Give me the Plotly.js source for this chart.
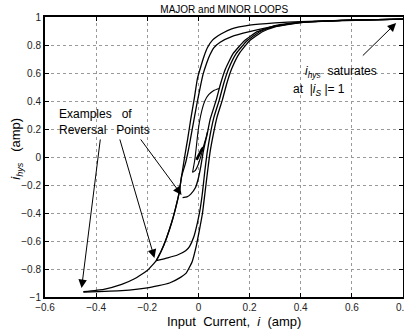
<!DOCTYPE html>
<html>
<head>
<meta charset="utf-8">
<script src="https://cdn.plot.ly/plotly-3.0.1.min.js"></script>
<style>html,body{margin:0;padding:0;background:#fff;}#chart{width:404px;height:336px;}</style>
</head>
<body>
<div id="chart"></div>
<script>
// Major loop, descending branch (from positive saturation to -0.45)
const majorDescX = [0.8,0.6,0.4,0.3,0.2,0.13,0.09,0.055,0.035,0.022,0.01,-0.004,-0.016,-0.03,-0.042,-0.054,-0.066,-0.076,-0.09,-0.105,-0.125,-0.145,-0.165,-0.2,-0.25,-0.3,-0.37,-0.45];
const majorDescY = [0.985,0.977,0.967,0.958,0.942,0.915,0.88,0.835,0.78,0.72,0.65,0.56,0.42,0.27,0.13,0.0,-0.14,-0.26,-0.37,-0.47,-0.58,-0.67,-0.74,-0.81,-0.87,-0.91,-0.945,-0.962];
// Major loop, ascending branch (from -0.45 to positive saturation)
const majorAscX = [-0.45,-0.3,-0.2,-0.113,-0.07,-0.048,-0.025,-0.009,0.004,0.016,0.026,0.036,0.045,0.058,0.072,0.094,0.11,0.13,0.16,0.2,0.25,0.3,0.4,0.6,0.8];
const majorAscY = [-0.965,-0.955,-0.935,-0.9,-0.86,-0.83,-0.75,-0.64,-0.52,-0.4,-0.25,-0.1,0.03,0.16,0.28,0.41,0.52,0.63,0.74,0.83,0.895,0.93,0.96,0.977,0.985];
// Second descending branch (reversal at -0.165)
const desc2X = [0.8,0.5,0.4,0.3,0.2,0.13,0.085,0.06,0.045,0.032,0.018,0.005,-0.008,-0.022,-0.036,-0.05,-0.066,-0.076,-0.09,-0.105,-0.125,-0.145,-0.165];
const desc2Y = [0.985,0.97,0.96,0.935,0.895,0.86,0.82,0.78,0.73,0.67,0.59,0.48,0.36,0.22,0.08,-0.04,-0.14,-0.26,-0.37,-0.47,-0.58,-0.67,-0.74];
// Ascending branch from reversal point -0.165
const asc2X = [-0.165,-0.12,-0.082,-0.05,-0.035,-0.018,-0.004,0.006,0.016,0.025,0.034,0.046,0.06,0.082,0.098,0.118,0.148,0.19,0.24,0.3,0.4,0.6,0.8];
const asc2Y = [-0.74,-0.72,-0.7,-0.67,-0.64,-0.57,-0.47,-0.38,-0.25,-0.1,0.03,0.16,0.28,0.41,0.52,0.63,0.74,0.83,0.895,0.935,0.962,0.977,0.985];
// Ascending branch from reversal point -0.06
const asc3X = [-0.062,-0.045,-0.03,-0.012,0.0,0.01,0.018,0.026,0.034,0.046,0.07,0.086,0.106,0.136,0.18,0.23,0.3,0.4,0.6,0.8];
const asc3Y = [-0.29,-0.285,-0.265,-0.22,-0.15,-0.06,0.03,0.1,0.16,0.27,0.41,0.52,0.63,0.74,0.83,0.895,0.938,0.963,0.978,0.985];
// Minor loop: descending from reversal at 0.08
const minorDescX = [0.08,0.06,0.04,0.025,0.013,0.004,-0.003,-0.009,-0.015,-0.023];
const minorDescY = [0.49,0.475,0.445,0.4,0.33,0.25,0.16,0.06,-0.03,-0.11];
// Minor loop: ascending back
const minorAscX = [-0.023,-0.012,0.0,0.012,0.022,0.03,0.035];
const minorAscY = [-0.11,-0.095,-0.05,0.02,0.09,0.14,0.18];
// Tiny inner loop
const tinyX = [-0.008,0.0,0.008,0.016,0.011,0.003,-0.006];
const tinyY = [-0.02,0.01,0.04,0.066,0.045,0.015,-0.02];

const xTicks = [-0.6,-0.4,-0.2,0,0.2,0.4,0.6,0.8];
const yTicks = [-1,-0.8,-0.6,-0.4,-0.2,0,0.2,0.4,0.6,0.8,1];

// Arrow tips and tails
const arrowTipX = [-0.457,-0.172,-0.066,0.773];
const arrowTipY = [-0.936,-0.721,-0.271,0.957];
const arrowTailX = [-0.383,-0.309,-0.23,0.637];
const arrowTailY = [0.136,0.136,0.136,0.714];

const curves = [
  [majorDescX, majorDescY, 1.3],
  [majorAscX, majorAscY, 1.3],
  [desc2X, desc2Y, 1.3],
  [asc2X, asc2Y, 1.3],
  [asc3X, asc3Y, 1.3],
  [minorDescX, minorDescY, 1.1],
  [minorAscX, minorAscY, 1.1],
  [tinyX, tinyY, 2.2]
];
const traces = curves.map(c => ({
  x: c[0], y: c[1], type: 'scatter', mode: 'lines',
  line: {color: '#000', width: c[2], shape: 'spline', smoothing: 0.4},
  hoverinfo: 'skip', showlegend: false
}));

const txtFont = {family: 'Liberation Sans, Arial, sans-serif', size: 12, color: '#000'};
const titleFont = {family: 'Liberation Sans, Arial, sans-serif', size: 13, color: '#000'};
const annotations = [];
for (let i = 0; i < arrowTipX.length; i++) {
  annotations.push({
    x: arrowTipX[i], y: arrowTipY[i], ax: arrowTailX[i], ay: arrowTailY[i],
    xref: 'x', yref: 'y', axref: 'x', ayref: 'y', text: '',
    showarrow: true, arrowhead: 2, arrowsize: 1.7, arrowwidth: 1, arrowcolor: '#000'
  });
}
annotations.push(
  {x: -0.555, y: 0.31, xref: 'x', yref: 'y', xanchor: 'left', yanchor: 'middle', showarrow: false,
   text: 'Examples&nbsp;&nbsp;&nbsp;of', font: txtFont},
  {x: -0.555, y: 0.195, xref: 'x', yref: 'y', xanchor: 'left', yanchor: 'middle', showarrow: false,
   text: 'Reversal&nbsp;&nbsp;&nbsp;Points', font: txtFont},
  {x: 0.41, y: 0.61, xref: 'x', yref: 'y', xanchor: 'left', yanchor: 'middle', showarrow: false,
   text: '<i>i<sub>hys</sub></i>&nbsp;&nbsp;saturates', font: txtFont},
  {x: 0.363, y: 0.48, xref: 'x', yref: 'y', xanchor: 'left', yanchor: 'middle', showarrow: false,
   text: 'at&nbsp;&nbsp;|<i>i<sub>S</sub></i>&nbsp;|=&nbsp;1', font: txtFont},
  {x: -0.078, y: 0.53, xref: 'paper', yref: 'paper', xanchor: 'center', yanchor: 'middle', showarrow: false,
   textangle: -90, text: '<i>i<sub>hys</sub></i>&nbsp;&nbsp;&nbsp;(amp)', font: titleFont},
  {x: 0.528, y: -0.089, xref: 'paper', yref: 'paper', xanchor: 'center', yanchor: 'middle', showarrow: false,
   text: 'Input&nbsp;&nbsp;Current,&nbsp;&nbsp;<i>i</i>&nbsp;&nbsp;(amp)', font: titleFont}
);

const axisCommon = {
  showgrid: true, gridcolor: '#9a9a9a', griddash: 'dot', gridwidth: 1,
  showline: true, linecolor: '#000', linewidth: 2, mirror: 'ticks',
  ticks: 'inside', ticklen: 4, tickcolor: '#000', tickwidth: 1,
  zeroline: false, ticklabeloverflow: 'allow',
  tickfont: {family: 'Liberation Sans, Arial, sans-serif', size: 10, color: '#222'}
};

const layout = {
  width: 404, height: 336,
  margin: {l: 45, r: 1, t: 17, b: 39},
  paper_bgcolor: '#fff', plot_bgcolor: '#fff',
  title: {text: 'MAJOR and MINOR LOOPS', font: {family: 'Liberation Sans, Arial, sans-serif', size: 10, color: '#000'},
          x: 0.555, xanchor: 'center', y: 0.973, yanchor: 'middle'},
  xaxis: Object.assign({}, axisCommon, {range: [-0.6, 0.8], tickvals: xTicks}),
  yaxis: Object.assign({}, axisCommon, {range: [-1, 1], tickvals: yTicks}),
  annotations: annotations,
  showlegend: false
};

Plotly.newPlot('chart', traces, layout, {staticPlot: true, displayModeBar: false});
</script>
</body>
</html>
